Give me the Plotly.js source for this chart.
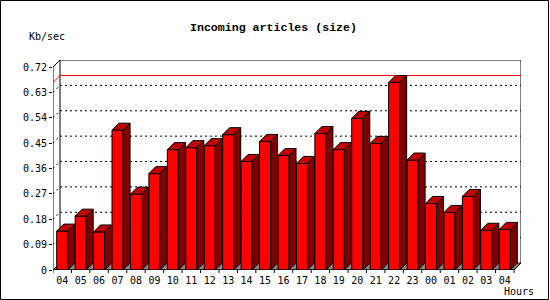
<!DOCTYPE html>
<html>
<head>
<meta charset="utf-8">
<script src="https://cdn.plot.ly/plotly-3.0.1.min.js"></script>
<style>html,body{margin:0;padding:0;background:#fff}#chart{width:550px;height:300px}</style>
</head>
<body>
<div id="chart"></div>
<script>
// ---- data ----
const hours = ['04','05','06','07','08','09','10','11','12','13','14','15','16','17','18','19','20','21','22','23','00','01','02','03','04'];
const kbPerSec = [0.138,0.191,0.135,0.496,0.269,0.342,0.427,0.434,0.441,0.480,0.385,0.456,0.406,0.378,0.484,0.427,0.538,0.449,0.665,0.390,0.236,0.204,0.261,0.141,0.144];
const yTickVals = [0,0.09,0.18,0.27,0.36,0.45,0.54,0.63,0.72];
const yTickText = ['0','0.09','0.18','0.27','0.36','0.45','0.54','0.63','0.72'];
const titleText = 'Incoming articles (size)';
const yUnitText = 'Kb/sec';
const xUnitText = 'Hours';

// ---- geometry ----
const W = 550, H = 300;
const mL = 53, mR = 29, mT = 60, mB = 30;
const plotW = W - mL - mR, plotH = H - mT - mB;
const DXpx = 7, DYpx = 7;
const n = hours.length;
const yMax = yTickVals[yTickVals.length - 1];
const pxu = (plotW - DXpx) / n;          // px per category
const pyu = (plotH - DYpx) / yMax;       // px per value unit
const dxu = DXpx / pxu, dyu = DYpx / pyu;
const xLo = -0.5, xHi = n - 0.5;
const xRange = [xLo, xHi + dxu];
const yRange = [0, yMax + dyu];
const half = 0.3;
const xs = hours.map((_, i) => i);

// side and top faces of 3D bars
const sideX = [], sideY = [], topX = [], topY = [];
xs.forEach((c, i) => {
  const v = kbPerSec[i], r = c + half, l = c - half;
  sideX.push(r, r + dxu, r + dxu, r, r, null);
  sideY.push(0, dyu, v + dyu, v, 0, null);
  topX.push(l, r, r + dxu, l + dxu, l, null);
  topY.push(v, v, v + dyu, v + dyu, v, null);
});

const traces = [
  {type: 'bar', x: xs, y: kbPerSec, width: 2 * half,
   marker: {color: '#ff0000', line: {color: '#000', width: 1}}, hoverinfo: 'skip'},
  {type: 'scatter', mode: 'lines', x: sideX, y: sideY, fill: 'toself', fillcolor: '#800000',
   line: {color: '#000', width: 1}, connectgaps: false, hoverinfo: 'skip'},
  {type: 'scatter', mode: 'lines', x: topX, y: topY, fill: 'toself', fillcolor: '#c00000',
   line: {color: '#000', width: 1}, connectgaps: false, hoverinfo: 'skip'}
];

const bx0 = xLo + dxu, bx1 = xHi + dxu, bTop = yMax + dyu;
const shapes = [];
// floor
shapes.push({type: 'path', layer: 'below', xref: 'x', yref: 'y',
  path: `M ${xLo},0 L ${xHi},0 L ${bx1},${dyu} L ${bx0},${dyu} Z`,
  fillcolor: '#888888', line: {color: '#000', width: 1}});
// back wall
shapes.push({type: 'path', layer: 'below', xref: 'x', yref: 'y',
  path: `M ${bx0},${dyu} L ${bx0},${bTop} L ${bx1},${bTop} L ${bx1},${dyu}`,
  line: {color: '#000', width: 1}});
// grid lines on back wall
yTickVals.slice(1, -1).forEach(v => {
  shapes.push({type: 'line', layer: 'below', xref: 'x', yref: 'y', x0: bx0, x1: bx1, y0: v + dyu, y1: v + dyu,
    line: {color: '#000', width: 1, dash: '2px,3px'}});
  shapes.push({type: 'line', layer: 'below', xref: 'x', yref: 'y', x0: xLo, x1: bx0, y0: v, y1: v + dyu,
    line: {color: '#000', width: 1, dash: '2px,3px'}});
});
// max line (red)
const maxV = Math.max(...kbPerSec);
shapes.push({type: 'path', layer: 'below', xref: 'x', yref: 'y',
  path: `M ${xLo},${maxV} L ${bx0},${maxV + dyu} L ${bx1},${maxV + dyu}`,
  line: {color: '#ff0000', width: 1}});
// top-left diagonal and front axes
shapes.push({type: 'line', xref: 'x', yref: 'y', x0: xLo, y0: yMax, x1: bx0, y1: bTop, line: {color: '#000', width: 1}});
shapes.push({type: 'line', xref: 'x', yref: 'y', x0: xLo, y0: 0, x1: xLo, y1: yMax, line: {color: '#000', width: 1}});
shapes.push({type: 'line', xref: 'x', yref: 'y', x0: xLo, y0: 0, x1: xHi, y1: 0, line: {color: '#000', width: 1}});
// x boundary ticks
for (let i = 0; i <= n; i++) {
  shapes.push({type: 'line', xref: 'x', yref: 'paper', x0: i - 0.5, x1: i - 0.5,
    y0: 0, y1: -3 / plotH, line: {color: '#000', width: 1}});
}
// outer frame
const px2x = p => (p - mL) / plotW, py2y = p => (H - mB - p) / plotH;
shapes.push({type: 'rect', xref: 'paper', yref: 'paper', x0: px2x(0.5), x1: px2x(548.5), y0: py2y(0.5), y1: py2y(299.5),
  line: {color: '#000', width: 1}});

const mono = 'DejaVu Sans Mono, monospace';
const layout = {
  width: W, height: H,
  margin: {l: mL, r: mR, t: mT, b: mB, pad: 0},
  paper_bgcolor: '#fff', plot_bgcolor: 'rgba(0,0,0,0)',
  showlegend: false,
  title: {text: '<b>' + titleText + '</b>', xref: 'container', yref: 'container', x: 273.5 / W, y: 1 - 27 / H,
    xanchor: 'center', yanchor: 'middle', font: {family: 'Liberation Mono, monospace', size: 11.6, color: '#000'}},
  xaxis: {range: xRange, tickmode: 'array', tickvals: xs, ticktext: hours, ticks: '', showline: false,
    showgrid: false, zeroline: false, ticklabelstandoff: 3,
    tickfont: {family: mono, size: 10, color: '#000'}, fixedrange: true},
  yaxis: {range: yRange, tickmode: 'array', tickvals: yTickVals, ticktext: yTickText, ticks: 'outside', ticklen: 3,
    tickcolor: '#000', showline: false, showgrid: false, zeroline: false,
    tickfont: {family: mono, size: 10, color: '#000'}, fixedrange: true},
  shapes: shapes,
  annotations: [
    {text: yUnitText, xref: 'paper', yref: 'paper', x: px2x(47), y: py2y(37), xanchor: 'center', yanchor: 'middle',
     showarrow: false, font: {family: mono, size: 10, color: '#000'}},
    {text: xUnitText, xref: 'paper', yref: 'paper', x: px2x(519), y: py2y(291.5), xanchor: 'center', yanchor: 'middle',
     showarrow: false, font: {family: mono, size: 10, color: '#000'}}
  ]
};

Plotly.newPlot('chart', traces, layout, {staticPlot: true, displayModeBar: false});
</script>
</body>
</html>
